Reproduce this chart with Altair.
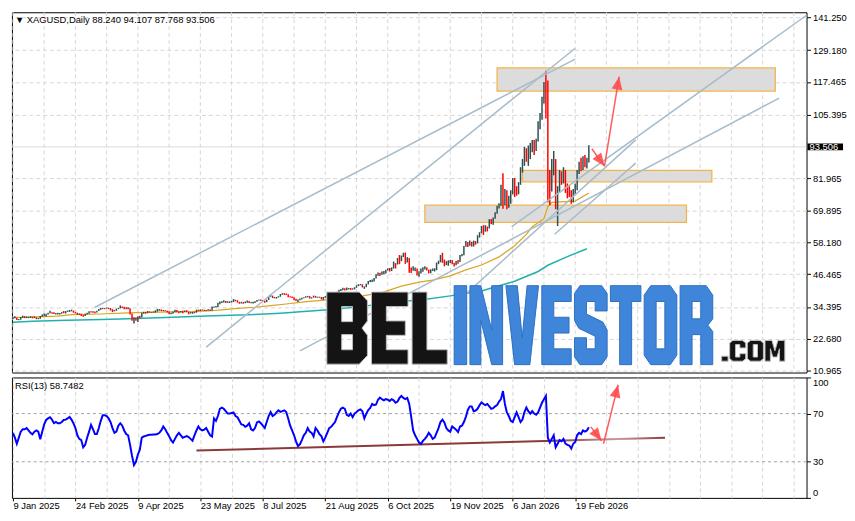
import json
import math
import altair as alt
import pandas as pd

# ---------------- data ----------------
date_labels = ["9 Jan 2025", "24 Feb 2025", "9 Apr 2025", "23 May 2025", "8 Jul 2025",
               "21 Aug 2025", "6 Oct 2025", "19 Nov 2025", "6 Jan 2026", "19 Feb 2026"]
label_step = 32          # bars between date labels
first_open = 30.3

closes = [
    30.4, 30.4, 29.7, 29.8, 30.5, 30.9, 30.4, 30.6, 30.6, 30.8,
    30.4, 30.6, 30.2, 30.2, 30.8, 31.3, 31.3, 31.5, 32.2, 32.4,
    32.2, 31.9, 31.9, 31.9, 32.1, 32.3, 32.2, 32.8, 32.8, 32.9,
    33.0, 32.4, 32.2, 31.6, 31.8, 31.3, 31.2, 31.8, 32.0, 32.6,
    32.5, 32.6, 32.4, 32.9, 33.6, 33.9, 33.7, 33.9, 34.0, 33.8,
    33.5, 33.0, 33.1, 33.7, 33.9, 34.8, 34.2, 34.1, 33.9, 34.0,
    31.9, 29.6, 29.9, 29.6, 30.7, 30.6, 32.1, 32.3, 32.2, 32.8,
    32.4, 32.5, 32.5, 32.8, 33.3, 33.5, 33.1, 33.0, 33.0, 32.7,
    31.9, 32.0, 32.6, 33.3, 32.6, 32.5, 32.7, 32.6, 33.0, 32.6,
    32.2, 32.3, 32.4, 32.3, 33.3, 33.1, 33.4, 33.3, 33.2, 33.2,
    33.4, 33.0, 34.5, 34.5, 34.5, 35.9, 36.0, 36.3, 36.5, 36.1,
    36.3, 36.3, 36.3, 37.0, 36.8, 36.1, 35.9, 36.0, 35.9, 36.1,
    36.5, 36.0, 36.0, 36.1, 36.4, 36.9, 37.1, 36.8, 36.7, 36.2,
    37.0, 38.4, 38.5, 37.8, 37.9, 37.9, 38.2, 39.1, 39.4, 39.2,
    39.0, 38.2, 38.1, 37.8, 37.1, 36.7, 37.0, 37.3, 37.7, 37.8,
    38.3, 38.3, 37.6, 37.9, 38.5, 38.0, 38.0, 38.0, 37.4, 38.0,
    38.1, 38.9, 38.6, 38.5, 38.6, 39.1, 39.7, 40.7, 40.8, 41.3,
    40.8, 41.2, 41.2, 40.9, 41.1, 41.6, 42.2, 42.6, 42.7, 41.7,
    41.7, 42.8, 43.9, 44.0, 44.0, 45.0, 46.0, 46.8, 46.6, 47.3,
    47.3, 48.0, 48.4, 47.8, 48.8, 50.3, 50.1, 52.2, 51.4, 53.2,
    54.0, 51.3, 52.6, 48.6, 48.3, 48.6, 48.6, 46.9, 47.0, 47.6,
    48.6, 48.7, 48.1, 47.2, 47.9, 48.0, 48.3, 50.5, 50.9, 53.4,
    51.0, 50.5, 50.9, 51.1, 51.3, 50.7, 50.0, 51.2, 51.0, 53.4,
    53.7, 56.5, 57.9, 57.5, 58.6, 56.9, 58.3, 58.1, 60.7, 61.8,
    63.8, 62.0, 64.0, 63.5, 66.5, 65.5, 67.0, 69.1, 71.5, 71.8,
    79.0, 72.5, 77.0, 72.0, 73.5, 76.5, 81.0, 77.5, 77.0, 80.0,
    85.0, 86.5, 92.0, 89.0, 90.0, 94.5, 95.0, 92.5, 96.0, 101.0,
    104.0, 111.0, 116.0, 108.0, 79.0, 78.0, 85.0, 88.0, 72.0, 77.5,
    83.0, 81.0, 84.5, 78.0, 77.5, 76.5, 73.5, 77.0, 78.5, 84.5,
    86.5, 85.5, 89.0, 87.5, 88.24, 93.506,
]
highs = [
    30.6, 31.0, 30.4, 30.0, 30.7, 31.2, 31.0, 30.9, 30.8, 31.0,
    30.8, 30.9, 30.6, 30.4, 31.1, 31.6, 32.0, 31.9, 32.3, 33.0,
    32.5, 32.5, 32.2, 32.3, 32.2, 32.5, 32.9, 32.9, 33.1, 33.3,
    33.4, 33.1, 32.6, 32.3, 32.0, 31.9, 31.4, 31.9, 32.3, 32.8,
    32.8, 32.8, 32.7, 33.0, 33.7, 34.0, 34.1, 34.0, 34.2, 34.1,
    34.0, 33.6, 33.3, 33.8, 34.1, 35.0, 34.6, 34.5, 34.3, 34.3,
    33.9, 32.0, 30.6, 30.5, 31.0, 31.2, 32.3, 32.6, 32.5, 32.9,
    32.8, 32.6, 32.8, 33.2, 33.7, 33.6, 33.5, 33.3, 33.2, 33.0,
    32.7, 32.3, 32.7, 33.4, 33.3, 32.8, 32.9, 33.0, 33.1, 33.2,
    32.7, 32.6, 32.6, 32.6, 33.4, 33.4, 33.5, 33.5, 33.4, 33.3,
    33.6, 33.5, 34.6, 34.6, 34.8, 36.0, 36.4, 36.5, 36.9, 36.6,
    36.5, 36.5, 36.7, 37.3, 37.1, 36.9, 36.3, 36.3, 36.2, 36.4,
    36.8, 36.6, 36.2, 36.3, 36.5, 37.0, 37.2, 37.2, 37.0, 36.8,
    37.1, 38.5, 39.1, 38.6, 38.1, 38.1, 38.4, 39.2, 39.5, 39.5,
    39.4, 39.1, 38.4, 38.3, 38.0, 37.4, 37.2, 37.5, 37.8, 38.0,
    38.4, 38.5, 38.4, 38.0, 38.6, 38.5, 38.2, 38.2, 38.1, 38.1,
    38.4, 39.0, 39.0, 38.7, 38.8, 39.2, 40.0, 40.8, 41.0, 41.5,
    41.3, 41.6, 41.4, 41.4, 41.3, 41.7, 42.4, 42.8, 42.9, 42.8,
    42.0, 43.0, 44.0, 44.4, 44.5, 45.1, 46.5, 47.1, 47.0, 47.5,
    47.7, 48.1, 48.7, 48.8, 49.0, 51.2, 50.6, 52.5, 53.6, 53.4,
    54.4, 54.5, 52.8, 52.5, 49.0, 49.4, 49.0, 48.6, 47.6, 48.6,
    49.1, 49.4, 49.1, 48.2, 48.3, 48.6, 48.7, 50.8, 51.5, 53.6,
    54.4, 51.9, 51.3, 51.6, 51.8, 51.7, 50.7, 51.4, 51.7, 53.6,
    54.0, 56.9, 58.8, 58.4, 58.9, 58.5, 58.9, 58.7, 60.9, 62.0,
    64.3, 64.6, 64.6, 64.1, 66.8, 66.9, 67.4, 69.4, 71.8, 72.7,
    79.5, 83.8, 78.0, 77.5, 75.5, 77.5, 82.0, 82.0, 79.0, 80.5,
    86.0, 89.0, 93.5, 93.0, 94.0, 95.0, 96.0, 96.0, 96.5, 103.0,
    106.0, 112.0, 117.5, 121.6, 118.0, 85.0, 89.0, 92.0, 89.0, 79.0,
    85.0, 84.5, 86.0, 85.0, 80.0, 79.0, 77.5, 78.0, 80.0, 85.0,
    88.0, 89.5, 90.0, 90.5, 89.5, 94.107,
]
lows = [
    30.0, 30.2, 29.6, 29.5, 29.7, 30.4, 30.3, 30.3, 30.3, 30.4,
    30.2, 30.3, 29.9, 29.9, 30.1, 30.8, 31.1, 30.9, 31.6, 32.1,
    31.9, 31.8, 31.6, 31.6, 31.6, 31.9, 32.1, 32.0, 32.6, 32.6,
    32.8, 32.3, 32.0, 31.5, 31.5, 31.1, 30.8, 31.1, 31.6, 31.9,
    32.4, 32.3, 32.1, 32.4, 32.9, 33.4, 33.6, 33.6, 33.8, 33.6,
    33.1, 32.5, 32.8, 33.0, 33.6, 33.9, 34.0, 33.6, 33.6, 33.6,
    31.6, 29.3, 28.3, 29.3, 28.9, 30.2, 30.5, 31.9, 31.9, 32.1,
    32.3, 32.3, 32.3, 32.3, 32.7, 33.0, 32.9, 32.8, 32.8, 32.4,
    31.7, 31.7, 31.9, 32.5, 32.5, 32.1, 32.4, 32.1, 32.5, 32.5,
    31.7, 32.0, 31.9, 32.1, 32.3, 32.9, 32.9, 33.1, 32.9, 32.9,
    33.0, 32.9, 33.0, 34.1, 34.2, 34.4, 35.4, 35.9, 36.1, 35.9,
    35.9, 35.9, 36.1, 36.2, 36.5, 36.0, 35.6, 35.7, 35.6, 35.8,
    36.0, 35.9, 35.8, 35.7, 35.9, 36.3, 36.8, 36.6, 36.5, 36.0,
    36.2, 37.0, 38.2, 37.7, 37.6, 37.5, 37.9, 38.2, 38.9, 38.9,
    38.8, 38.0, 37.9, 37.7, 36.9, 36.6, 36.2, 36.9, 37.2, 37.6,
    37.8, 38.0, 37.5, 37.5, 37.9, 37.8, 37.8, 37.8, 37.2, 37.0,
    37.8, 37.9, 38.5, 38.3, 38.3, 38.6, 39.0, 39.7, 40.3, 40.6,
    40.5, 40.6, 40.9, 40.7, 40.8, 40.9, 41.5, 42.1, 42.4, 41.6,
    41.1, 41.7, 42.7, 43.5, 43.6, 43.8, 44.9, 45.9, 45.8, 46.3,
    46.5, 46.8, 47.9, 47.5, 47.7, 48.6, 48.6, 50.1, 50.2, 51.3,
    52.8, 50.3, 50.8, 47.0, 46.9, 47.8, 47.6, 46.0, 45.6, 46.8,
    47.4, 48.2, 47.9, 46.8, 46.9, 47.7, 47.5, 48.0, 50.2, 50.9,
    50.7, 49.4, 49.9, 49.6, 50.6, 50.2, 49.3, 49.8, 50.4, 51.0,
    53.1, 53.5, 56.6, 56.5, 57.0, 56.7, 56.7, 57.4, 57.9, 60.0,
    61.6, 61.0, 62.2, 62.3, 63.4, 64.9, 64.8, 67.0, 68.8, 70.8,
    71.8, 70.7, 72.0, 70.5, 71.0, 72.5, 76.0, 75.0, 75.5, 76.0,
    79.5, 84.0, 86.5, 88.0, 86.5, 89.0, 91.5, 90.5, 92.0, 95.5,
    100.0, 103.5, 109.5, 104.0, 73.0, 72.0, 77.0, 83.0, 70.5, 64.3,
    76.5, 79.5, 80.0, 76.5, 74.5, 75.0, 72.5, 73.0, 76.0, 77.5,
    83.5, 84.5, 85.0, 86.0, 85.5, 87.768,
]

# moving averages, read at the bars where their course changes
ma50_bar = [0, 23, 30, 45, 59, 67, 82, 92, 102, 107, 115, 124, 132, 140, 149, 166, 179,
            189, 199, 208, 215, 224, 232, 240, 249, 257, 263, 266, 272, 274, 276, 288, 295]
ma50_val = [30.5, 31.0, 31.6, 31.8, 32.2, 32.4, 32.6, 32.7, 33.0, 33.3, 33.9, 34.3, 34.9,
            35.5, 36.3, 37.3, 38.5, 39.7, 42.1, 43.6, 44.3, 45.9, 48.1, 49.9, 52.9, 57.0,
            61.2, 64.0, 67.0, 71.5, 73.0, 73.5, 76.5]
ma200_bar = [0, 10, 28, 45, 55, 78, 99, 120, 137, 149, 165, 182, 200, 209, 224, 240, 257,
             269, 274, 284, 294]
ma200_val = [28.75, 29.1, 29.5, 29.8, 30.0, 30.5, 31.1, 31.5, 32.1, 32.7, 33.6, 34.9, 36.5,
             37.0, 38.5, 40.3, 43.9, 47.5, 49.8, 53.0, 55.9]

price_ticks = [141.25, 129.18, 117.465, 105.395, 81.965, 69.895, 58.18, 46.465, 34.395,
               22.68, 10.965]

rsi_vals = [
    54, 50, 45, 50, 55, 57, 57, 58, 56, 54,
    52.7, 55, 56, 55, 48.7, 55, 61, 64.7, 66, 67,
    65, 62, 63, 62, 62, 63, 64.7, 65, 66, 67.3,
    65, 62, 58, 52, 49, 48, 42, 44, 50, 55,
    60.7, 57, 53, 53, 58, 64, 68.7, 68.7, 68, 66,
    63, 58, 54, 55, 60, 62, 60, 56, 53, 52,
    44, 35, 27.3, 30, 36, 40, 50, 51, 51.5, 52,
    52.5, 52.5, 52.7, 52.7, 53, 54, 56, 59.3, 57, 54,
    51.3, 48, 46, 49, 52, 54, 52, 50, 50.7, 51.3,
    50.5, 49, 47.5, 52, 56, 59.3, 57, 56, 56.7, 58,
    55, 52, 51, 66, 64, 68, 74, 75, 74, 72,
    70, 70, 70.5, 71, 68, 67, 64, 61, 60.7, 59,
    60, 62, 57, 56, 58, 62.7, 63.5, 62, 60, 58,
    63, 68, 71.3, 68, 69, 71, 72.7, 71.5, 72, 72.7,
    71.3, 66, 60, 56, 52, 47, 43, 44.5, 48, 52,
    54, 58, 55, 54, 51, 58, 56, 53, 51.3, 47,
    50, 54, 58, 59, 61, 63, 67.3, 71, 74, 75,
    74, 69, 68, 70, 67, 70, 71.3, 72.7, 73.5, 72,
    66, 70, 73, 74.7, 78, 77, 77.5, 81.5, 83.3, 82,
    81, 82, 81.5, 80.5, 82, 81, 79, 80, 83, 84.7,
    83, 82, 83, 78, 67.3, 56, 52, 49, 46, 44.7,
    47.3, 49, 51, 54, 52, 49, 50, 54, 58, 63,
    65, 62.7, 58, 56, 55, 59.3, 58, 56.7, 54.7, 59.3,
    60, 63, 67.3, 73, 76, 76, 72, 72.5, 74, 77,
    79.3, 78, 77, 78, 76, 74, 74.5, 76, 77, 80,
    82, 88.7, 78, 71, 68, 64, 63, 67, 71, 67,
    63, 65, 71.3, 75, 72, 70, 72, 70, 69, 71,
    75, 79, 82, 84.7, 50, 46, 49, 52, 42, 45,
    48, 47, 49, 45, 44, 43.5, 41, 45, 46.5, 52,
    54, 53, 56, 55, 56, 58.7482,
]
rsi_levels = [30, 70]
rsi_ticks = [0, 30, 70, 100]

# objects drawn on the chart (bar index, price)
trend_x1 = [42, 99, 147, 255.5, 229, 277.5]
trend_y1 = [34.3, 19.6, 18.2, 64.1, 37.2, 61.25]
trend_x2 = [288, 288, 392.5, 406.5, 319, 319]
trend_y2 = [125.9, 129.9, 111.5, 142.1, 96.1, 87.5]

zone_x1 = [248, 261, 211]
zone_x2 = [390.5, 358, 345]
zone_top = [122.7, 84.8, 72.0]
zone_bot = [114.1, 80.6, 65.6]

arrow_x1 = [296.5, 303]
arrow_y1 = [92.8, 86.4]
arrow_x2 = [303, 310.5]
arrow_y2 = [86.4, 119.4]

rsi_trend_x = [94, 334]
rsi_trend_y = [39.3, 50.0]
rsi_arrow_x1 = [296, 302.5]
rsi_arrow_y1 = [59.0, 45.0]
rsi_arrow_x2 = [301.5, 310]
rsi_arrow_y2 = [47.5, 94.0]

# ---------------- layout / style ----------------
W = 805
HM = 365
HR = 122
XDOM = [-0.5, 406.5]
YDOM = [10.2, 143.2]
FONT = "Liberation Sans"
GRID = "#d6d6d6"
BULL = "#2f4f4f"
BEAR = "#ff0000"
TREND = "#a7bccb"
ARROW = "#ff4a4a"

n = min(len(closes), len(highs), len(lows))
opens = [first_open] + closes[:n - 1]
bars = pd.DataFrame({"i": list(range(n)), "o": opens, "h": highs[:n], "l": lows[:n], "c": closes[:n]})
bars["dir"] = ["up" if c >= o else "down" for o, c in zip(bars["o"], bars["c"])]

xscale = alt.Scale(domain=XDOM, nice=False, zero=False)
yscale = alt.Scale(domain=YDOM, nice=False, zero=False)
rscale = alt.Scale(domain=[0, 100], nice=False, zero=False)

yaxis = alt.Axis(orient="right", values=price_ticks, format=".3f", grid=True, gridColor=GRID,
                 gridDash=[4, 3], tickSize=4, tickColor="black", domain=False, title=None,
                 labelFont=FONT, labelFontSize=9.5, labelColor="black", labelPadding=2,
                 labelOverlap=False)


def X(f):
    return alt.X(f"{f}:Q", scale=xscale, axis=None)


def Y(f):
    return alt.Y(f"{f}:Q", scale=yscale, axis=yaxis)


px_bar = W / (XDOM[1] - XDOM[0])
px_price = HM / (YDOM[1] - YDOM[0])
px_rsi = HR / 100.0


def head_angle(x1, y1, x2, y2, sx, sy):
    dx = (x2 - x1) * sx
    dy = -(y2 - y1) * sy
    return math.degrees(math.atan2(dx, -dy)) % 360


HEAD = "M0,0 L-0.42,1 L0.42,1 Z"

grid_vals = list(range(0, 407, 16))
vgrid = alt.Chart(pd.DataFrame({"g": grid_vals})).mark_rule(
    color=GRID, strokeDash=[4, 3], strokeWidth=1).encode(x=X("g"))

zones = alt.Chart(pd.DataFrame({"x1": zone_x1, "x2": zone_x2, "t": zone_top, "b": zone_bot})).mark_rect(
    fill="#dcdcdc", stroke="#f3b54a", strokeWidth=1.3).encode(
    x=X("x1"), x2=alt.X2("x2"), y=Y("t"), y2=alt.Y2("b"))

last = bars.iloc[-1]
lastdf = pd.DataFrame({"c": [last["c"]]})
bidline = alt.Chart(lastdf).mark_rule(color="#dadada", strokeWidth=1).encode(y=Y("c"))

ma200 = alt.Chart(pd.DataFrame({"i": ma200_bar, "v": ma200_val})).mark_line(
    color="#20b2aa", strokeWidth=1.5).encode(x=X("i"), y=Y("v"))
ma50 = alt.Chart(pd.DataFrame({"i": ma50_bar, "v": ma50_val})).mark_line(
    color="#daa520", strokeWidth=1.2).encode(x=X("i"), y=Y("v"))

barlines = alt.Chart(bars).mark_rule(strokeWidth=1.5).encode(
    x=X("i"), y=Y("l"), y2=alt.Y2("h"),
    color=alt.Color("dir:N", scale=alt.Scale(domain=["up", "down"], range=[BULL, BEAR]), legend=None))

trends = alt.Chart(pd.DataFrame({"x1": trend_x1, "y1": trend_y1, "x2": trend_x2, "y2": trend_y2})).mark_rule(
    color=TREND, strokeWidth=1.5).encode(x=X("x1"), y=Y("y1"), x2=alt.X2("x2"), y2=alt.Y2("y2"))

adf = pd.DataFrame({"x1": arrow_x1, "y1": arrow_y1, "x2": arrow_x2, "y2": arrow_y2})
adf["ang"] = [head_angle(a, b, c, d, px_bar, px_price) for a, b, c, d in zip(arrow_x1, arrow_y1, arrow_x2, arrow_y2)]
arrows = alt.Chart(adf).mark_rule(color=ARROW, strokeWidth=1.5, opacity=0.9).encode(
    x=X("x1"), y=Y("y1"), x2=alt.X2("x2"), y2=alt.Y2("y2"))
heads = alt.Chart(adf).mark_point(shape=HEAD, size=26 ** 2, filled=True, color=ARROW, opacity=0.9).encode(
    x=X("x2"), y=Y("y2"), angle=alt.Angle("ang:Q", scale=None))

# ---- watermark glyphs (block letters) ----
LETTERS = {
    "B": (6, [[(0, 0), (4.8, 0), (6, 1.2), (6, 4), (5.2, 5), (6, 6), (6, 8.8), (4.8, 10), (0, 10)],
              [(2.2, 2), (3.8, 2), (3.8, 4.1), (2.2, 4.1)],
              [(2.2, 5.9), (3.8, 5.9), (3.8, 8), (2.2, 8)]]),
    "E": (5.4, [[(0, 0), (5.4, 0), (5.4, 2), (2.2, 2), (2.2, 4), (5, 4), (5, 6), (2.2, 6), (2.2, 8),
                 (5.4, 8), (5.4, 10), (0, 10)]]),
    "L": (5.2, [[(0, 0), (2.2, 0), (2.2, 8), (5.2, 8), (5.2, 10), (0, 10)]]),
    "I": (2.3, [[(0, 0), (2.3, 0), (2.3, 10), (0, 10)]]),
    "N": (6, [[(0, 0), (2, 0), (4, 5.6), (4, 0), (6, 0), (6, 10), (4, 10), (2, 4.4), (2, 10), (0, 10)]]),
    "V": (6, [[(0, 0), (2.1, 0), (3, 6.6), (3.9, 0), (6, 0), (4.4, 10), (1.6, 10)]]),
    "S": (6, [[(1, 0), (5, 0), (6, 1), (6, 3.2), (3.8, 3.2), (3.8, 2), (2.2, 2), (2.2, 3.6), (5.2, 4.6),
               (6, 5.6), (6, 9), (5, 10), (1, 10), (0, 9), (0, 6.6), (2.2, 6.6), (2.2, 8), (3.8, 8),
               (3.8, 6.4), (0.8, 5.4), (0, 4.4), (0, 1)]]),
    "T": (5.6, [[(0, 0), (5.6, 0), (5.6, 2), (3.9, 2), (3.9, 10), (1.7, 10), (1.7, 2), (0, 2)]]),
    "O": (6, [[(1.2, 0), (4.8, 0), (6, 1.2), (6, 8.8), (4.8, 10), (1.2, 10), (0, 8.8), (0, 1.2)],
              [(2.2, 2), (3.8, 2), (3.8, 8), (2.2, 8)]]),
    "R": (6, [[(0, 0), (4.8, 0), (6, 1.2), (6, 4.2), (5.1, 5), (6, 5.8), (6, 10), (3.8, 10), (3.8, 6.2),
               (2.2, 6.2), (2.2, 10), (0, 10)],
              [(2.2, 2), (3.8, 2), (3.8, 4.2), (2.2, 4.2)]]),
    "C": (6, [[(1.2, 0), (4.8, 0), (6, 1.2), (6, 3.6), (3.8, 3.6), (3.8, 2), (2.2, 2), (2.2, 8), (3.8, 8),
               (3.8, 6.4), (6, 6.4), (6, 8.8), (4.8, 10), (1.2, 10), (0, 8.8), (0, 1.2)]]),
    "M": (7.4, [[(0, 0), (2.6, 0), (3.7, 5), (4.8, 0), (7.4, 0), (7.4, 10), (5.4, 10), (5.4, 4), (4.5, 8),
                 (2.9, 8), (2, 4), (2, 10), (0, 10)]]),
    ".": (2.4, [[(0, 7.6), (2.4, 7.6), (2.4, 10), (0, 10)]]),
}


def area(poly):
    s = 0.0
    for k in range(len(poly)):
        x1, y1 = poly[k]
        x2, y2 = poly[(k + 1) % len(poly)]
        s += x1 * y2 - x2 * y1
    return s / 2


def word_path(word, wpx, hpx, gap=0.6):
    total = sum(LETTERS[ch][0] for ch in word) + gap * (len(word) - 1)
    sx, sy = wpx / total, hpx / 10.0
    S = max(wpx, hpx)
    half = S / 2.0
    parts = []
    off = 0.0
    for ch in word:
        lw, polys = LETTERS[ch]
        for k, poly in enumerate(polys):
            p = list(poly)
            if (area(p) > 0) != (k == 0):
                p = p[::-1]
            pts = [((off + x) * sx - wpx / 2) / half for x, _ in p]
            pys = [(y * sy - hpx / 2) / half for _, y in p]
            seg = "M" + " L".join(f"{a:.4f},{b:.4f}" for a, b in zip(pts, pys)) + " Z"
            parts.append(seg)
        off += lw + gap
    return " ".join(parts), S


one = pd.DataFrame({"k": [0]})


def word_layer(word, cx, cy, wpx, hpx, fill, stroke):
    path, S = word_path(word, wpx, hpx)
    return alt.Chart(one).mark_point(shape=path, size=S * S, filled=True, fill=fill, stroke=stroke,
                                     strokeWidth=1, opacity=1).encode(x=alt.value(cx), y=alt.value(cy))


wm_bel = word_layer("BEL", 380, 320, 122, 73, "#141414", "#bdbdbd")
wm_inv = word_layer("INVESTOR", 579, 317, 262, 80, "#3f86da", "#2d6fbf")
wm_com = word_layer(".COM", 751, 343, 64, 21, "#141414", "#bdbdbd")

header_txt = "\u25bc XAGUSD,Daily  " + " ".join(f"{v:.3f}" for v in [last["o"], last["h"], last["l"], last["c"]])
header = alt.Chart(one).mark_text(align="left", baseline="middle", font=FONT, fontSize=9.5,
                                  color="black").encode(x=alt.value(3), y=alt.value(8),
                                                        text=alt.value(header_txt))

bidbox = alt.Chart(lastdf).mark_point(shape="M-1,-0.19 L1,-0.19 L1,0.19 L-1,0.19 Z", size=36 * 36,
                                      filled=True, color="black", opacity=1).encode(
    x=alt.value(W + 19), y=Y("c"))
bidtxt = alt.Chart(lastdf).mark_text(align="left", baseline="middle", font=FONT, fontSize=9.5,
                                     color="white").encode(
    x=alt.value(W + 3), y=Y("c"), text=alt.Text("c:Q", format=".3f"))

main = alt.layer(vgrid, zones, bidline, ma200, ma50, barlines, trends, arrows, heads,
                 wm_bel, wm_inv, wm_com, header, bidbox, bidtxt).properties(width=W, height=HM)

# ---------------- RSI panel ----------------
label_expr = (f"datum.value % {label_step} == 0 && datum.value / {label_step} < {len(date_labels)} ? "
              f"{json.dumps(date_labels)}[datum.value / {label_step}] : ''")
rx_axis = alt.Axis(values=grid_vals, labelExpr=label_expr, grid=True, gridColor=GRID, gridDash=[4, 3],
                   tickSize=3, tickColor="black",
                   tickOpacity={"condition": {"test": f"datum.value % {label_step} == 0 && datum.value <= 288",
                                              "value": 1}, "value": 0},
                   domain=False, title=None, labelAlign="left", labelBaseline="top", labelPadding=0,
                   labelFont=FONT, labelFontSize=9.5, labelColor="black", labelOverlap=False,
                   labelFlush=False)
ry_axis = alt.Axis(orient="right", values=rsi_ticks, grid=False, tickSize=4, tickColor="black",
                   domain=False, title=None, labelFont=FONT, labelFontSize=9.5, labelColor="black",
                   labelPadding=2, labelFlush=True)


def RX(f):
    return alt.X(f"{f}:Q", scale=xscale, axis=rx_axis)


def RY(f):
    return alt.Y(f"{f}:Q", scale=rscale, axis=ry_axis)


rsi_df = pd.DataFrame({"i": list(range(len(rsi_vals))), "v": rsi_vals})
levels = alt.Chart(pd.DataFrame({"v": rsi_levels})).mark_rule(
    color="#a0a0a0", strokeDash=[3, 3], strokeWidth=1).encode(y=RY("v"))
rsi_line = alt.Chart(rsi_df).mark_line(color="#0000ff", strokeWidth=2).encode(x=RX("i"), y=RY("v"))
rtrend = alt.Chart(pd.DataFrame({"i": rsi_trend_x, "v": rsi_trend_y})).mark_line(
    strokeWidth=2,
    stroke=alt.LinearGradient(gradient="linear", x1=0, y1=0, x2=1, y2=0,
                              stops=[alt.GradientStop(color="#8b3a3a", offset=0),
                                     alt.GradientStop(color="#8b3a3a", offset=0.75),
                                     alt.GradientStop(color="#c89a9a", offset=0.9),
                                     alt.GradientStop(color="#8b3a3a", offset=1)])).encode(
    x=RX("i"), y=RY("v"))
radf = pd.DataFrame({"x1": rsi_arrow_x1, "y1": rsi_arrow_y1, "x2": rsi_arrow_x2, "y2": rsi_arrow_y2})
radf["ang"] = [head_angle(a, b, c, d, px_bar, px_rsi)
               for a, b, c, d in zip(rsi_arrow_x1, rsi_arrow_y1, rsi_arrow_x2, rsi_arrow_y2)]
rarrows = alt.Chart(radf).mark_rule(color=ARROW, strokeWidth=1.5, opacity=0.9).encode(
    x=RX("x1"), y=RY("y1"), x2=alt.X2("x2"), y2=alt.Y2("y2"))
rheads = alt.Chart(radf).mark_point(shape=HEAD, size=26 ** 2, filled=True, color=ARROW, opacity=0.9).encode(
    x=RX("x2"), y=RY("y2"), angle=alt.Angle("ang:Q", scale=None))
rsi_label = alt.Chart(one).mark_text(align="left", baseline="middle", font=FONT, fontSize=9.5,
                                     color="black").encode(
    x=alt.value(3), y=alt.value(9), text=alt.value(f"RSI(13) {rsi_vals[-1]:.4f}"))

rsi_panel = alt.layer(levels, rtrend, rsi_line, rarrows, rheads, rsi_label).properties(width=W, height=HR)

chart = alt.vconcat(main, rsi_panel, spacing=1).properties(padding=0, background="white").configure_view(
    stroke="black", strokeWidth=1)

chart.save("out.html", embed_options={"renderer": "svg", "actions": False})
